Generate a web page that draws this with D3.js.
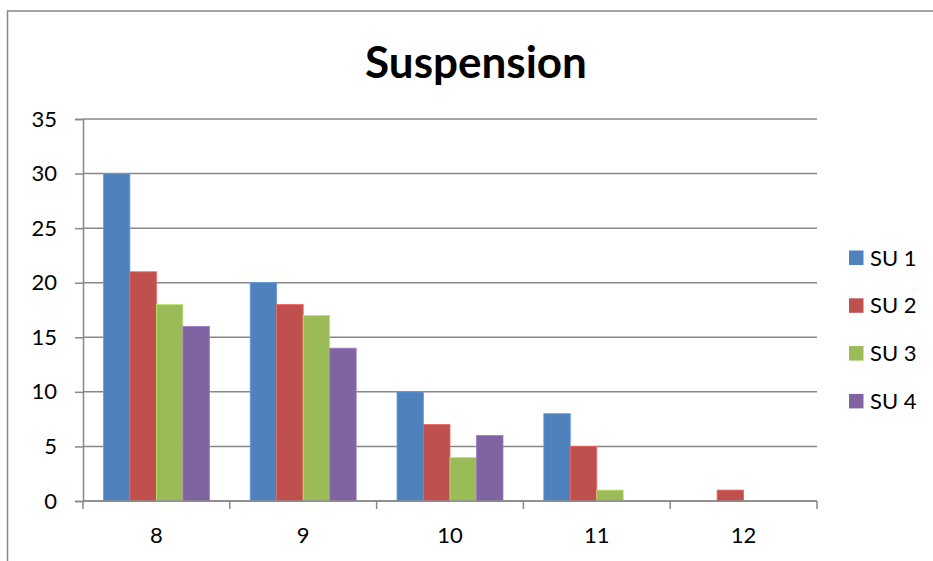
<!DOCTYPE html>
<html>
<head>
<meta charset="utf-8">
<script src="https://cdn.jsdelivr.net/npm/d3@7"></script>
<style>
  html, body { margin: 0; padding: 0; background: #fff; }
  svg { display: block; }
  text { font-family: Lato, "Open Sans", sans-serif; fill: #000; }
</style>
</head>
<body>
<svg id="chart" width="933" height="561"></svg>
<script>
// Grades and suspension counts per unit
const categories = ["8", "9", "10", "11", "12"];
const seriesNames = ["SU 1", "SU 2", "SU 3", "SU 4"];
const su1 = [30, 20, 10, 8, 0];
const su2 = [21, 18, 7, 5, 1];
const su3 = [18, 17, 4, 1, 0];
const su4 = [16, 14, 6, 0, 0];
const yTicks = [0, 5, 10, 15, 20, 25, 30, 35];
const colors = ["#4F81BD", "#C0504D", "#9BBB59", "#8064A2"];

const seriesValues = [su1, su2, su3, su4];

const svg = d3.select("#chart");
const plot = { left: 83, right: 817, top: 119, bottom: 501 };
const gridColor = "#888888";

// Outer frame of the chart area
svg.append("path")
  .attr("d", "M7.5,561 L7.5,11 L933,11")
  .attr("fill", "none")
  .attr("stroke", gridColor)
  .attr("stroke-width", 1.5);

// Title
svg.append("text")
  .attr("x", 476)
  .attr("y", 78)
  .attr("text-anchor", "middle")
  .attr("font-size", 44)
  .attr("font-weight", 700)
  .text("Suspension");

const x = d3.scaleBand().domain(categories).range([plot.left, plot.right]).padding(0);
const xSub = d3.scaleBand().domain(seriesNames).range([0, x.bandwidth()])
  .paddingInner(0).paddingOuter(0.77);
const y = d3.scaleLinear().domain([0, 35]).range([plot.bottom, plot.top]);

// Horizontal gridlines
svg.append("g")
  .selectAll("line")
  .data(yTicks)
  .join("line")
  .attr("x1", plot.left)
  .attr("x2", plot.right)
  .attr("y1", d => y(d))
  .attr("y2", d => y(d))
  .attr("stroke", gridColor)
  .attr("stroke-width", 1.5);

// Bars
const groups = svg.append("g")
  .selectAll("g")
  .data(categories)
  .join("g")
  .attr("transform", d => `translate(${x(d)},0)`);

groups.selectAll("rect")
  .data((c, i) => seriesNames.map((s, j) => ({ s, j, v: seriesValues[j][i] })))
  .join("rect")
  .attr("x", d => xSub(d.s))
  .attr("width", xSub.bandwidth())
  .attr("y", d => y(d.v))
  .attr("height", d => y(0) - y(d.v))
  .attr("fill", d => colors[d.j])
  .attr("stroke", d => d3.color(colors[d.j]).brighter(0.6))
  .attr("stroke-width", d => d.v > 0 ? 0.8 : 0);

// Y axis
const yAxis = d3.axisLeft(y).tickValues(yTicks).tickSize(8).tickPadding(18);
const gy = svg.append("g").attr("transform", `translate(${plot.left},0)`).call(yAxis);
gy.select(".domain").attr("stroke", gridColor).attr("stroke-width", 1.5);
gy.selectAll(".tick line").attr("stroke", gridColor).attr("stroke-width", 1.5);
gy.selectAll(".tick text").attr("font-size", 22).attr("font-family", "Lato, sans-serif").attr("fill", "#000");

// X axis: labels centred under each group, ticks at group boundaries
const gx = svg.append("g").attr("transform", `translate(0,${plot.bottom})`);
gx.append("line")
  .attr("x1", plot.left).attr("x2", plot.right)
  .attr("stroke", gridColor).attr("stroke-width", 1.5);
const boundaries = categories.map(c => x(c)).concat([plot.right]);
gx.selectAll(".bt")
  .data(boundaries)
  .join("line")
  .attr("class", "bt")
  .attr("x1", d => d).attr("x2", d => d)
  .attr("y1", 0).attr("y2", 8)
  .attr("stroke", gridColor).attr("stroke-width", 1.5);
gx.selectAll(".lbl")
  .data(categories)
  .join("text")
  .attr("class", "lbl")
  .attr("x", d => x(d) + x.bandwidth() / 2)
  .attr("y", 42)
  .attr("text-anchor", "middle")
  .attr("font-size", 22)
  .text(d => d);

// Legend
const legend = svg.append("g")
  .selectAll("g")
  .data(seriesNames)
  .join("g")
  .attr("transform", (d, i) => `translate(849,${250.5 + i * 47.8})`);
legend.append("rect")
  .attr("width", 14.5)
  .attr("height", 14.5)
  .attr("fill", (d, i) => colors[i]);
legend.append("text")
  .attr("x", 21)
  .attr("y", 15)
  .attr("font-size", 22)
  .text(d => d);
</script>
</body>
</html>
